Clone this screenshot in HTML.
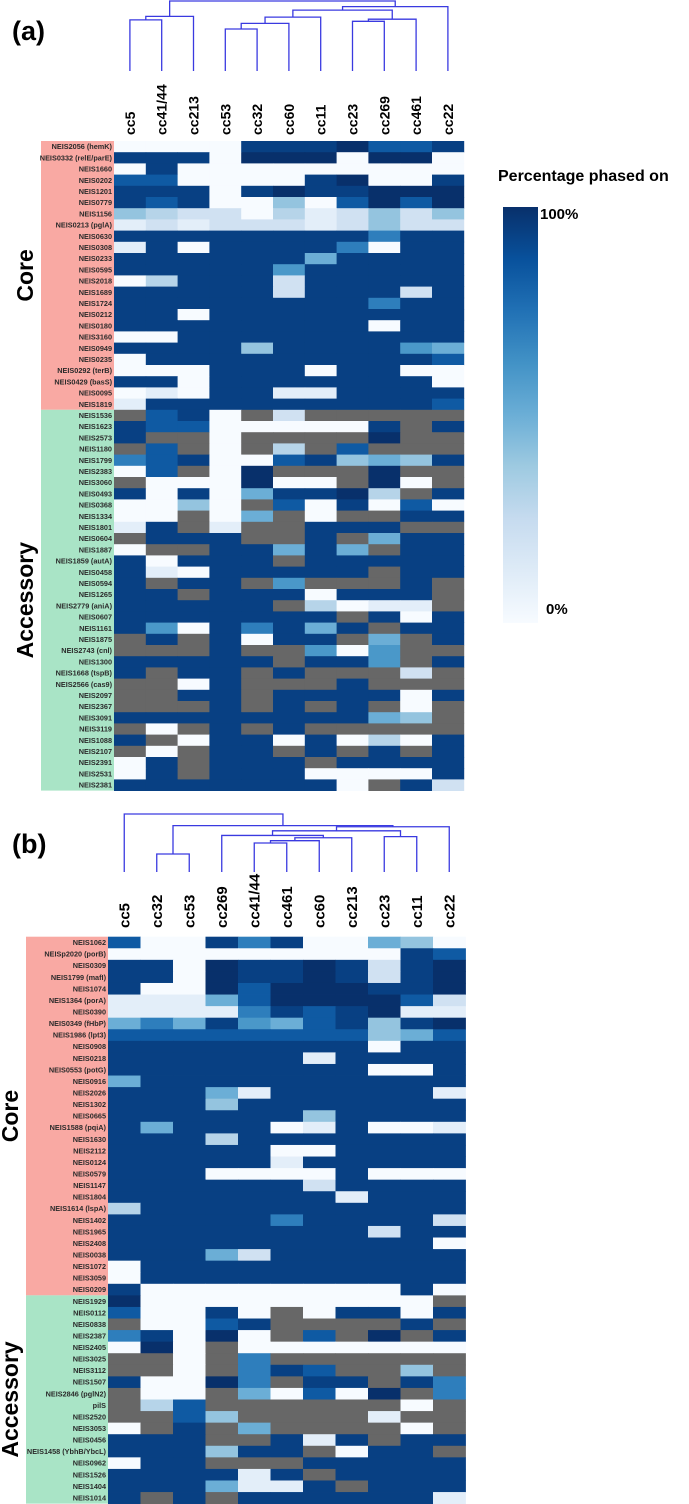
<!DOCTYPE html>
<html><head><meta charset="utf-8">
<style>
html,body{margin:0;padding:0;background:#fff;}
svg{display:block;font-family:"Liberation Sans",sans-serif;}
</style></head>
<body>
<svg id="fig" width="689" height="1504" viewBox="0 0 689 1504" xmlns="http://www.w3.org/2000/svg">
<text x="12" y="40" font-size="27" font-weight="bold">(a)</text>
<text x="12" y="853" font-size="27" font-weight="bold">(b)</text>
<g>
<defs><linearGradient id="cb" x1="0" y1="1" x2="0" y2="0">
<stop offset="0" stop-color="#f7fbff"/><stop offset="0.125" stop-color="#deebf7"/><stop offset="0.25" stop-color="#c6dbef"/><stop offset="0.375" stop-color="#9ecae1"/><stop offset="0.5" stop-color="#6baed6"/><stop offset="0.625" stop-color="#4292c6"/><stop offset="0.75" stop-color="#2171b5"/><stop offset="0.875" stop-color="#08519c"/><stop offset="1" stop-color="#08306b"/></linearGradient></defs>
<text x="498" y="181" font-size="16" font-weight="bold">Percentage phased on</text>
<rect x="503" y="207" width="35" height="416" fill="url(#cb)"/>
<text x="540" y="219" font-size="15" font-weight="bold">100%</text>
<text x="546" y="614" font-size="15" font-weight="bold">0%</text>
</g>
</svg>
<script>
// ---------- Panel A data (values in tenths of percentage phased on; null = absent/grey) ----------
const colsA = ["cc5","cc41/44","cc213","cc53","cc32","cc60","cc11","cc23","cc269","cc461","cc22"];
const coreRowsA = ["NEIS2056 (hemK)","NEIS0332 (relE/parE)","NEIS1660","NEIS0202","NEIS1201","NEIS0779","NEIS1156","NEIS0213 (pglA)","NEIS0630","NEIS0308","NEIS0233","NEIS0595","NEIS2018","NEIS1689","NEIS1724","NEIS0212","NEIS0180","NEIS3160","NEIS0949","NEIS0235","NEIS0292 (terB)","NEIS0429 (basS)","NEIS0095","NEIS1819"];
const accRowsA = ["NEIS1536","NEIS1623","NEIS2573","NEIS1180","NEIS1799","NEIS2383","NEIS3060","NEIS0493","NEIS0368","NEIS1334","NEIS1801","NEIS0604","NEIS1887","NEIS1859 (autA)","NEIS0458","NEIS0594","NEIS1265","NEIS2779 (aniA)","NEIS0607","NEIS1161","NEIS1875","NEIS2743 (cnl)","NEIS1300","NEIS1668 (tspB)","NEIS2566 (cas9)","NEIS2097","NEIS2367","NEIS3091","NEIS3119","NEIS1088","NEIS2107","NEIS2391","NEIS2531","NEIS2381"];
const G = null;
const valuesA = [
[0,0,0,0,9,9,9,10,8,8,9],
[9,9,9,0,10,10,10,0,10,10,0],
[0,9,0,0,0,0,0,0,0,0,0],
[8,8,0,0,0,0,9,10,0,0,9],
[9,9,9,0,9,10,9,9,10,10,10],
[9,8,9,0,0,4,0,8,10,8,10],
[4,3,2,2,0,3,1,2,4,2,4],
[1,2,1,2,2,2,1,2,4,2,2],
[9,9,9,9,9,9,9,9,7,9,9],
[1,9,0,9,9,9,9,7,0,9,9],
[9,9,9,9,9,9,5,9,9,9,9],
[9,9,9,9,9,6,9,9,9,9,9],
[0,3,9,9,9,2,9,9,9,9,9],
[9,9,9,9,9,2,9,9,9,2,9],
[9,9,9,9,9,9,9,9,7,9,9],
[9,9,0,9,9,9,9,9,9,9,9],
[9,9,9,9,9,9,9,9,0,9,9],
[0,0,9,9,9,9,9,9,9,9,9],
[9,9,9,9,4,9,9,9,9,6,5],
[0,9,9,9,9,9,9,9,9,9,8],
[0,0,0,9,9,9,0,9,9,0,0],
[9,9,0,9,9,9,9,9,9,9,0],
[0,1,0,9,9,1,1,9,9,9,9],
[1,9,9,9,9,9,9,9,9,9,8],
[G,8,9,0,G,2,G,G,G,G,G],
[9,8,8,0,0,0,0,0,9,G,9],
[9,G,G,0,G,G,G,G,10,G,G],
[G,8,G,0,G,3,G,8,G,G,G],
[7,8,9,0,0,8,9,4,5,4,9],
[0,8,G,0,10,G,G,G,10,G,G],
[G,0,0,0,10,0,0,G,10,0,G],
[9,0,9,0,5,9,9,10,3,G,9],
[0,0,4,0,G,8,0,9,0,8,0],
[0,0,G,0,5,G,0,G,G,9,9],
[1,9,G,1,G,G,9,9,9,G,G],
[G,9,9,9,G,G,9,G,5,9,9],
[0,G,G,9,9,5,9,5,G,9,9],
[9,0,9,9,9,G,9,9,9,9,9],
[9,1,0,9,9,9,9,9,G,9,9],
[9,G,9,9,G,6,G,G,G,9,G],
[9,9,G,9,9,9,0,9,9,9,G],
[9,9,9,9,9,G,3,0,1,1,G],
[9,9,9,9,9,9,9,G,9,0,9],
[9,6,0,9,7,9,5,9,G,9,9],
[G,9,G,9,0,9,9,G,5,G,9],
[G,G,G,9,G,G,6,0,6,G,G],
[9,9,9,9,9,G,9,9,6,G,9],
[9,G,9,9,G,9,G,G,G,2,G],
[G,G,0,9,G,G,G,9,G,G,G],
[G,G,9,9,G,9,9,9,9,0,9],
[G,G,G,9,G,9,G,9,G,0,G],
[9,9,9,9,9,9,9,9,5,4,G],
[G,0,G,9,G,9,G,G,G,G,G],
[9,G,0,9,9,0,9,0,3,0,9],
[G,0,G,9,9,G,9,G,9,G,9],
[0,9,G,9,9,9,G,9,9,9,9],
[0,9,G,9,9,9,0,0,0,0,9],
[9,9,9,9,9,9,9,0,G,9,2]
];
// dendrogram A: [childA, childB, mergeHeight(0 top .. 1 leaves)]
const linkA = [[0,1,0.27],[11,2,0.22],[3,4,0.40],[13,5,0.32],[14,6,0.23],[7,8,0.29],[16,9,0.26],[15,17,0.13],[18,10,0.08],[12,19,0.0]];

// ---------- Panel B data ----------
const colsB = ["cc5","cc32","cc53","cc269","cc41/44","cc461","cc60","cc213","cc23","cc11","cc22"];
const coreRowsB = ["NEIS1062","NEISp2020 (porB)","NEIS0309","NEIS1799 (mafI)","NEIS1074","NEIS1364 (porA)","NEIS0390","NEIS0349 (fHbP)","NEIS1986 (lpt3)","NEIS0908","NEIS0218","NEIS0553 (potG)","NEIS0916","NEIS2026","NEIS1302","NEIS0665","NEIS1588 (pqiA)","NEIS1630","NEIS2112","NEIS0124","NEIS0579","NEIS1147","NEIS1804","NEIS1614 (lspA)","NEIS1402","NEIS1965","NEIS2408","NEIS0038","NEIS1072","NEIS3059","NEIS0209"];
const accRowsB = ["NEIS1929","NEIS0112","NEIS0838","NEIS2387","NEIS2405","NEIS3025","NEIS3112","NEIS1507","NEIS2846 (pglN2)","pilS","NEIS2520","NEIS3053","NEIS0456","NEIS1458 (YbhB/YbcL)","NEIS0962","NEIS1526","NEIS1404","NEIS1014"];
const valuesB = [
[8,0,0,9,7,9,0,0,5,4,0],
[0,0,0,0,0,0,0,0,0,9,8],
[9,9,0,10,9,9,10,9,2,9,10],
[9,9,0,10,9,9,10,9,2,9,10],
[9,0,0,10,8,10,10,10,9,9,10],
[1,1,1,5,8,10,10,10,10,8,2],
[1,1,1,1,7,9,8,9,10,1,1],
[5,7,5,9,6,5,8,9,4,9,10],
[8,8,8,8,8,8,8,8,4,5,8],
[9,9,9,9,9,9,9,9,0,9,9],
[9,9,9,9,9,9,1,9,9,9,9],
[9,9,9,9,9,9,9,9,0,0,9],
[5,9,9,9,9,9,9,9,9,9,9],
[9,9,9,5,1,9,9,9,9,9,1],
[9,9,9,4,9,9,9,9,9,9,9],
[9,9,9,9,9,9,4,9,9,9,9],
[9,5,9,9,9,0,1,9,0,0,1],
[9,9,9,3,9,9,9,9,9,9,9],
[9,9,9,9,9,0,0,9,9,9,9],
[9,9,9,9,9,1,9,9,9,9,9],
[9,9,9,0,0,0,0,9,0,0,0],
[9,9,9,9,9,9,2,9,9,9,9],
[9,9,9,9,9,9,9,1,9,9,9],
[3,9,9,9,9,9,9,9,9,9,9],
[9,9,9,9,9,7,9,9,9,9,2],
[9,9,9,9,9,9,9,9,2,9,9],
[9,9,9,9,9,9,9,9,9,9,0],
[9,9,9,5,2,9,9,9,9,9,9],
[0,9,9,9,9,9,9,9,9,9,9],
[0,9,9,9,9,9,9,9,9,9,9],
[9,0,0,0,0,0,0,0,0,9,0],
[10,0,0,0,0,0,0,0,0,0,G],
[8,0,0,9,0,G,0,9,9,0,9],
[G,0,0,8,9,G,G,G,G,9,G],
[7,9,0,10,0,G,8,G,10,G,9],
[0,10,0,G,0,0,0,0,0,0,0],
[G,G,0,G,7,G,G,G,G,G,G],
[G,G,0,G,7,9,8,G,G,4,G],
[9,0,0,10,7,G,9,9,G,9,7],
[G,0,0,G,5,0,8,0,10,G,7],
[G,3,8,G,G,G,G,G,G,0,G],
[G,G,8,4,G,G,G,G,1,G,G],
[0,G,9,G,5,G,G,G,G,0,G],
[9,9,9,G,G,9,1,9,G,9,9],
[9,9,9,4,9,9,G,0,9,9,G],
[0,9,9,G,G,G,9,9,9,9,9],
[9,9,9,9,1,9,G,9,9,9,9],
[9,9,9,5,1,1,9,G,9,9,9],
[9,G,9,G,9,9,9,9,9,9,1]
];
const linkB = [[1,2,0.69],[4,5,0.50],[12,6,0.46],[13,7,0.41],[3,14,0.37],[8,9,0.39],[15,16,0.29],[17,10,0.22],[11,18,0.20],[0,19,0.0]];

// ---------- rendering ----------
const NS = "http://www.w3.org/2000/svg";
const svg = document.getElementById("fig");
const blues = [[247,251,255],[222,235,247],[198,219,239],[158,202,225],[107,174,214],[66,146,198],[33,113,181],[8,81,156],[8,48,107]];
function colorScale(v){
  if(v===null) return "#676767";
  let t = Math.min(1, Math.max(0, v/10 + (v>=8?0.04:0)));
  const p = t*(blues.length-1), i = Math.min(blues.length-2, Math.floor(p)), f = p-i;
  const c = blues[i].map((a,k)=>Math.round(a+(blues[i+1][k]-a)*f));
  return "rgb("+c.join(",")+")";
}
function mk(tag, attrs, parent){
  const e = document.createElementNS(NS, tag);
  for(const k in attrs) e.setAttribute(k, attrs[k]);
  (parent||svg).appendChild(e);
  return e;
}
function panel(cfg){
  const rows = cfg.core.concat(cfg.acc);
  const g = mk("g", {});
  
  
  const xScale = i => cfg.x0 + i*cfg.cw;
  const yScale = r => cfg.y0 + r*cfg.rh;
  const nC = cfg.core.length;
  // label boxes
  const cb = mk("rect", {x:cfg.lx, y:yScale(0), width:cfg.x0-cfg.lx, height:nC*cfg.rh, fill:"#f9a9a3"}, g);
  
  
  const ab = mk("rect", {x:cfg.lx, y:yScale(nC), width:cfg.x0-cfg.lx, height:cfg.acc.length*cfg.rh, fill:"#a9e4c6"}, g);
  
  
  // cells
  cfg.values.forEach((row, r) => {
    row.forEach((v, c) => {
      const cell = mk("rect", {x:xScale(c), y:yScale(r), width:cfg.cw+0.4, height:cfg.rh+0.4, fill:colorScale(v)}, g);
      
      
    });
  });
  // row labels
  rows.forEach((name, r) => {
    const t = mk("text", {x:cfg.x0-2, y:yScale(r)+cfg.rh/2+2.6, "text-anchor":"end", "font-size":"7.3", "font-weight":"bold", fill:"#2a2a2a", "font-family":"'Liberation Sans Narrow','Liberation Sans',sans-serif"}, g);
    t.textContent = name;
    
    
  });
  // section labels
  const cy = yScale(nC/2), ay = yScale(nC + cfg.acc.length/2);
  const ct = mk("text", {x:0, y:0, transform:"translate("+cfg.sx+","+cy+") rotate(-90)", "text-anchor":"middle", "font-size":"23", "font-weight":"bold"}, g);
  ct.textContent = "Core";
  
  
  const at = mk("text", {x:0, y:0, transform:"translate("+cfg.sx+","+ay+") rotate(-90)", "text-anchor":"middle", "font-size":"23", "font-weight":"bold"}, g);
  at.textContent = "Accessory";
  
  
  // column labels
  cfg.cols.forEach((name, c) => {
    const cx = xScale(c)+cfg.cw/2+5;
    const t = mk("text", {x:0, y:0, transform:"translate("+cx+","+cfg.colBottom+") rotate(-90)", "font-size":cfg.colFont, "font-weight":"bold"}, g);
    t.textContent = name;
    
    
  });
  // dendrogram
  const nodes = cfg.cols.map((_, c) => ({x:xScale(c)+cfg.cw/2, y:cfg.dBottom}));
  const dy = h => cfg.dTop + h*(cfg.dBottom-cfg.dTop);
  cfg.link.forEach(([a,b,h]) => {
    const A = nodes[a], B = nodes[b], y = dy(h);
    const p = mk("path", {d:"M"+A.x+","+A.y+"V"+y+"H"+B.x+"V"+B.y, fill:"none", stroke:"#3a3ae0", "stroke-width":"1.3"}, g);
    
    
    nodes.push({x:(A.x+B.x)/2, y:y});
  });
}
panel({name:"heatmap-panel-a", cols:colsA, core:coreRowsA, acc:accRowsA, values:valuesA, link:linkA,
  x0:114, cw:31.8, y0:141, rh:11.2, lx:41, sx:33, colBottom:135, colFont:14, dTop:1, dBottom:71});
panel({name:"heatmap-panel-b", cols:colsB, core:coreRowsB, acc:accRowsB, values:valuesB, link:linkB,
  x0:108, cw:32.5, y0:936.7, rh:11.57, lx:26, sx:18, colBottom:928, colFont:15, dTop:814, dBottom:872});
</script>
</body></html>
